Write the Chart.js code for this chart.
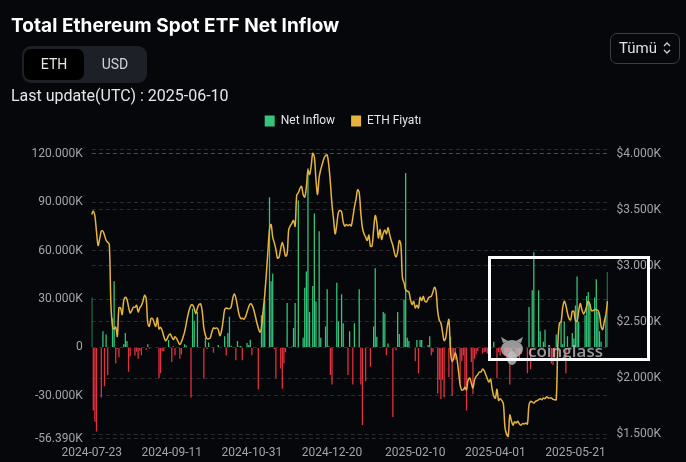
<!DOCTYPE html>
<html lang="tr">
<head>
<meta charset="utf-8">
<title>Total Ethereum Spot ETF Net Inflow</title>
<script src="https://cdn.jsdelivr.net/npm/chart.js@4.4.1/dist/chart.umd.min.js"></script>
<style>
  html, body { margin: 0; padding: 0; background: #06070b; }
  #page { position: relative; width: 686px; height: 462px; overflow: hidden; background: #06070b; font-family: Roboto, "Noto Sans", sans-serif; }
  #chart { position: absolute; left: 0; top: 0; }
  .title { position: absolute; left: 11px; top: 15px; margin: 0; font: 700 19px/22px Inter, "Liberation Sans", sans-serif; color: #fff; letter-spacing: 0.05px; white-space: nowrap; }
  .switch { position: absolute; left: 22px; top: 46px; width: 125px; height: 37px; background: #1d2026; border-radius: 9px; }
  .switch .active { position: absolute; left: 2px; top: 3px; width: 60px; height: 31px; background: #000; border-radius: 7px; }
  .switch span { position: absolute; top: 0; height: 37px; line-height: 37px; font-size: 14px; text-align: center; }
  .switch .eth { left: 2px; width: 60px; color: #e6e6e6; }
  .switch .usd { left: 62px; width: 62px; color: #cfd2d6; }
  .updated { position: absolute; left: 11px; top: 86px; font-size: 16px; line-height: 20px; color: #e6e6e6; white-space: nowrap; }
  .range { position: absolute; left: 610px; top: 33px; width: 70px; height: 31px; box-sizing: border-box; border: 1px solid #3a3d44; border-radius: 7px; color: #e0e0e0; font-size: 15px; line-height: 29px; padding-left: 8px; }
  .range svg { position: absolute; left: 52px; top: 7px; }
  .focus { position: absolute; left: 488px; top: 256px; width: 162px; height: 105px; box-sizing: border-box; border: 3px solid #fff; pointer-events: none; }
</style>
</head>
<body>
<div id="page">
  <canvas id="chart" width="686" height="462"></canvas>
  <h1 class="title">Total Ethereum Spot ETF Net Inflow</h1>
  <div class="switch"><div class="active"></div><span class="eth">ETH</span><span class="usd">USD</span></div>
  <div class="updated">Last update(UTC) : 2025-06-10</div>
  <div class="range">Tümü<svg width="8" height="14" viewBox="0 0 8 14"><path d="M1 5 L4 2 L7 5 M1 9 L4 12 L7 9" fill="none" stroke="#d0d0d0" stroke-width="1.3"/></svg></div>
  <div class="focus"></div>
</div>
<script>
const seriesNames = ['Net Inflow', 'ETH Fiyatı'];
const xTickLabels = ['2024-07-23', '2024-09-11', '2024-10-31', '2024-12-20', '2025-02-10', '2025-04-01', '2025-05-21'];
const leftTicks = [-56.39, -30, 0, 30, 60, 90, 120];      // K ETH
const rightTicks = [1500, 2000, 2500, 3000, 3500, 4000];   // USD

// one category per day, 2024-07-23 .. 2025-06-10
const dates = [];
for (let d = new Date(Date.UTC(2024, 6, 23)); d <= new Date(Date.UTC(2025, 5, 10)); d.setUTCDate(d.getUTCDate() + 1)) {
  dates.push(d.toISOString().slice(0, 10));
}

// net inflow, thousands of ETH, one value per day
const inflowJul24 = [31, -39, -46, -52, 0, 0, -31, 10, -24];
const inflowAug24 = [8, -17, 0, 0, 18, 41, -10, -1, -6, 0, 0, 2, 9, 4, -15, -5.6, 0, 0, -5, -2.7, -7, -2, -4.8, 0, 0, -1.5, 2, -0.8, 0, 0, 0];
const inflowSep24 = [0, 0, -19, -16, -2.3, -2.3, 0, 0, 4.6, 0, -9, 0.8, -4.8, 0, 0, -7, -4.4, 0, 2, 1.2, 0, 0, -31, 24, 16.5, 0, 22, 0, 0, 0];
const inflowOct24 = [-19, 6, -1, 3, 0, 0, -3.3, 0, 0, 1.5, 0, 0, 0, 7, -5, 9, 19, 1, 0, 0, -8, 4, 0.6, 0.9, -8, 0, 0, 2.7, 1.5, 4.8, -4.8];
const inflowNov24 = [0, 0, 0, -26, 0, 20, 22, 29.6, 0, 0, 93, 41, 45.6, -1, -19, 0, 0, -13, -25.6, -10, -3, 27.5, 0, 0, 0.6, 12, 27.5, 0, 91, 0];
const inflowDec24 = [0, 6, 37, 47, 111, 22, 0, 38, 83, 28.5, 0, 72, 6, 0, 0, 13, 36, 0.7, -17, -23, 0, 0, 40, 16, 0, 33, 15, 0, 0, -17, 10];
const inflowJan25 = [0, -23, 15, 0, 0, 36, -23, -48, 0, -21, 0, 0, -12, 0, 13, 49, 6.6, 0, 0, 0, 22, 21, -4.8, 2.5, 0, 0, -43, 0, -1.7, 22, 8.3];
const inflowFeb25 = [0, 0, 29.6, 108, 6, 4, 0, 0, 0, -8.5, 4.6, -16, 4.6, 4.6, 0, 0, 0, 1.5, 7, -4.8, -3, 0, 0, -28.5, -20, -32, -20, -31];
const inflowMar25 = [0, 0, -18.5, 6.7, -30, -7, -8, 0, 0, -22, -8.5, -5, -26.5, -39, 0, 0, -9, -29, -7, -4.4, -2.3, 0, 0, -3.7, -3, -2.7, -3.7, -1, 0, 0, 3.5];
const inflowApr25 = [0, -19, -3, -5, 0, 0, -5, -8, -3, -23, -6, 0, 0, -3, -6, -7, -4, 0, 0, 0, -16, 25, -13.5, 35.5, 59, 0, 0, 35.5, 10, 0];
const inflowMay25 = [3.5, 11, 0, 0, 0, -10, -11, -7, 8, 0, 0, 16, 2, 16, -16, 7, 0, 0, 9, 5.5, 26, 44, 16, 0, 0, 0, 20, 31.8, 34.3, 27, 0];
const inflowJun25 = [0, 31, 42.2, 22, 10, 3.5, 0, 0, 20, 46.7];

// ETH price, USD
const priceJul24 = [3458, 3488, 3443, 3304, 3182, 3244, 3310, 3310, 3274];
const priceAug24 = [3229, 3211, 3190, 2655, 2461, 2438, 2455, 2372, 2625, 2625, 2566, 2690, 2720, 2700, 2634, 2580, 2601, 2631, 2631, 2649, 2589, 2625, 2646, 2685, 2738, 2708, 2491, 2461, 2530, 2530, 2491];
const priceSep24 = [2461, 2536, 2438, 2452, 2423, 2372, 2334, 2348, 2381, 2393, 2366, 2342, 2369, 2351, 2322, 2298, 2322, 2363, 2411, 2482, 2557, 2613, 2649, 2652, 2619, 2574, 2625, 2655, 2661, 2595];
const priceOct24 = [2447, 2381, 2351, 2350, 2357, 2411, 2447, 2441, 2447, 2432, 2378, 2417, 2506, 2610, 2625, 2619, 2619, 2631, 2708, 2750, 2715, 2640, 2566, 2530, 2533, 2524, 2545, 2589, 2634, 2661, 2652];
const priceNov24 = [2616, 2560, 2500, 2447, 2408, 2452, 2595, 2738, 2923, 3131, 3324, 3369, 3256, 3205, 3146, 3069, 3080, 3155, 3208, 3155, 3086, 3107, 3324, 3357, 3381, 3405, 3354, 3631, 3652, 3690];
const priceDec24 = [3708, 3637, 3613, 3702, 3851, 3815, 3890, 4003, 3970, 3771, 3637, 3792, 3860, 3911, 3958, 3985, 3988, 3899, 3741, 3548, 3414, 3286, 3369, 3476, 3494, 3482, 3390, 3354, 3369, 3357, 3369];
const priceJan25 = [3357, 3429, 3524, 3592, 3679, 3652, 3473, 3339, 3286, 3256, 3226, 3274, 3176, 3176, 3324, 3449, 3384, 3250, 3324, 3235, 3290, 3320, 3286, 3339, 3280, 3226, 3182, 3116, 3080, 3125, 3226];
const priceFeb25 = [3190, 2893, 2848, 2786, 2774, 2768, 2700, 2655, 2685, 2625, 2649, 2625, 2720, 2691, 2729, 2685, 2679, 2708, 2723, 2729, 2768, 2810, 2768, 2595, 2515, 2491, 2410, 2334];
const priceMar25 = [2357, 2461, 2521, 2238, 2149, 2179, 2223, 2170, 2060, 1940, 1893, 1896, 1917, 1896, 1985, 2000, 1955, 1911, 1985, 2015, 2030, 2054, 2054, 2080, 2066, 2030, 1994, 1964, 1990, 1900, 1840];
const priceApr25 = [1820, 1900, 1800, 1815, 1800, 1770, 1560, 1500, 1480, 1670, 1620, 1580, 1610, 1600, 1615, 1590, 1580, 1595, 1590, 1600, 1590, 1760, 1792, 1786, 1777, 1792, 1798, 1807, 1816, 1807];
const priceMay25 = [1822, 1816, 1834, 1822, 1822, 1822, 1810, 1807, 1807, 2298, 2491, 2500, 2625, 2685, 2649, 2580, 2530, 2518, 2595, 2595, 2512, 2506, 2595, 2664, 2610, 2572, 2595, 2640, 2685, 2655, 2601];
const priceJun25 = [2601, 2610, 2610, 2604, 2566, 2461, 2432, 2506, 2566, 2685];

const netInflow = [].concat(inflowJul24, inflowAug24, inflowSep24, inflowOct24, inflowNov24, inflowDec24,
  inflowJan25, inflowFeb25, inflowMar25, inflowApr25, inflowMay25, inflowJun25);
const ethPrice = [].concat(priceJul24, priceAug24, priceSep24, priceOct24, priceNov24, priceDec24,
  priceJan25, priceFeb25, priceMar25, priceApr25, priceMay25, priceJun25);

if (netInflow.length !== dates.length || ethPrice.length !== dates.length) {
  throw new Error('length mismatch: dates ' + dates.length + ', inflow ' + netInflow.length + ', price ' + ethPrice.length);
}

const GREEN = '#36c47b';
const RED = '#e2323f';
const GOLD = '#e5b43f';
const GRID = 'rgba(255,255,255,0.15)';
const TICK = '#a2a4a8';

const LEFT_MIN = -56.39, LEFT_MAX = 122.9;
const RIGHT_MIN = 1461, RIGHT_MAX = 4042;

// push the plot area down below the legend
const legendGap = {
  id: 'legendGap',
  afterInit(chart) {
    const fit = chart.legend.fit;
    chart.legend.fit = function () {
      fit.call(this);
      this.height += 12;
    };
  }
};

// faint coinglass mark in the middle of the zero line
const watermark = {
  id: 'watermark',
  afterDatasetsDraw(chart) {
    const ctx = chart.ctx;
    ctx.save();
    ctx.globalAlpha = 0.78;
    ctx.fillStyle = '#c2c2c4';
    ctx.beginPath();
    ctx.ellipse(512, 349, 11, 9, 0, 0, Math.PI * 2);
    ctx.fill();
    ctx.beginPath();
    ctx.moveTo(503, 343); ctx.lineTo(501, 337); ctx.lineTo(508, 341); ctx.fill();
    ctx.beginPath();
    ctx.moveTo(521, 343); ctx.lineTo(523, 337); ctx.lineTo(516, 341); ctx.fill();
    ctx.beginPath();
    ctx.ellipse(512, 358, 5, 7, 0, 0, Math.PI * 2);
    ctx.fill();
    ctx.font = '600 17px "Open Sans", Roboto, sans-serif';
    ctx.textBaseline = 'middle';
    ctx.fillText('coinglass', 528, 352);
    ctx.restore();
  }
};

function draw() {
  Chart.defaults.font.family = 'Roboto';
  new Chart(document.getElementById('chart'), {
    data: {
      labels: dates,
      datasets: [{
        type: 'bar',
        label: seriesNames[0],
        data: netInflow,
        yAxisID: 'y',
        backgroundColor: c => (c.raw >= 0 ? GREEN : RED),
        barPercentage: 0.8,
        categoryPercentage: 1,
        order: 2
      }, {
        type: 'line',
        label: seriesNames[1],
        data: ethPrice,
        yAxisID: 'y1',
        borderColor: GOLD,
        borderWidth: 1.5,
        pointRadius: 0,
        tension: 0.35,
        order: 1
      }]
    },
    options: {
      responsive: false,
      animation: false,
      devicePixelRatio: 1,
      layout: { padding: { top: 99, left: 0, right: 0, bottom: 0 } },
      plugins: {
        tooltip: { enabled: false },
        legend: {
          position: 'top',
          labels: {
            boxWidth: 10,
            boxHeight: 11,
            padding: 16,
            color: '#e4e4e4',
            font: { size: 12 },
            generateLabels: () => [
              { text: seriesNames[0], fillStyle: GREEN, strokeStyle: GREEN, lineWidth: 0, fontColor: '#e4e4e4', datasetIndex: 0 },
              { text: seriesNames[1], fillStyle: GOLD, strokeStyle: GOLD, lineWidth: 0, fontColor: '#e4e4e4', datasetIndex: 1 }
            ]
          }
        }
      },
      scales: {
        x: {
          offset: false,
          grid: { display: false, drawTicks: false },
          border: { display: false },
          ticks: {
            autoSkip: false,
            maxRotation: 0,
            padding: 7,
            color: TICK,
            font: { size: 12 },
            callback: (v, i) => (xTickLabels.includes(dates[i]) ? dates[i] : null)
          },
          afterFit: s => { s.height = 23.5; }
        },
        y: {
          position: 'left',
          min: LEFT_MIN,
          max: LEFT_MAX,
          afterBuildTicks: s => { s.ticks = leftTicks.concat([LEFT_MAX]).map(v => ({ value: v })); },
          afterFit: s => { s.width = 91.7; },
          grid: { color: GRID, drawTicks: false },
          border: { display: false, dash: [4, 3] },
          ticks: {
            padding: 9,
            color: TICK,
            font: { size: 12 },
            callback: v => (v === 0 ? '0' : v === LEFT_MAX ? '' : v.toFixed(3) + 'K')
          }
        },
        y1: {
          position: 'right',
          min: RIGHT_MIN,
          max: RIGHT_MAX,
          afterBuildTicks: s => { s.ticks = rightTicks.map(v => ({ value: v })); },
          afterFit: s => { s.width = 78.5; },
          grid: { color: GRID, drawTicks: false },
          border: { display: false, dash: [4, 3] },
          ticks: {
            padding: 9,
            color: TICK,
            font: { size: 12 },
            callback: v => '$' + (v / 1000).toFixed(3) + 'K'
          }
        }
      }
    },
    plugins: [legendGap, watermark]
  });
}

Promise.all([
  document.fonts.load('12px Roboto'),
  document.fonts.load('600 17px "Open Sans"'),
  document.fonts.load('700 19px Inter')
]).then(draw, draw);
</script>
</body>
</html>
